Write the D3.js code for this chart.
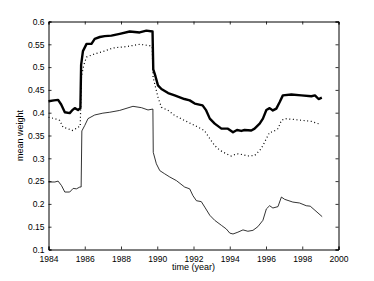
<!DOCTYPE html>
<html>
<head>
<meta charset="utf-8">
<script src="https://cdn.jsdelivr.net/npm/d3@7"></script>
<style>
  body { margin: 0; background: #fff; }
  text { font-family: "Liberation Sans", Arial, sans-serif; }
</style>
</head>
<body>
<div class="chart"></div>
<script>
// thick solid series
var thickYears = [1984.0,1984.3,1984.53,1984.7,1984.9,1985.17,1985.3,1985.45,1985.63,1985.76,1985.8,1985.9,1986.1,1986.37,1986.55,1986.83,1987.1,1987.47,1987.93,1988.48,1989.03,1989.4,1989.74,1989.78,1989.9,1990.04,1990.23,1990.6,1990.96,1991.5,1991.79,1992.07,1992.5,1992.7,1992.9,1993.17,1993.54,1993.9,1994.18,1994.4,1994.64,1994.82,1995.19,1995.37,1995.65,1995.83,1996.02,1996.2,1996.38,1996.57,1996.75,1996.93,1997.4,1997.95,1998.5,1998.7,1998.9,1999.08];
var thickVals = [0.425,0.427,0.428,0.418,0.401,0.399,0.405,0.41,0.406,0.41,0.505,0.535,0.551,0.551,0.562,0.566,0.568,0.569,0.573,0.578,0.576,0.58,0.578,0.495,0.48,0.46,0.452,0.443,0.438,0.43,0.427,0.42,0.416,0.405,0.387,0.376,0.365,0.365,0.357,0.362,0.36,0.362,0.361,0.365,0.376,0.387,0.406,0.41,0.405,0.409,0.423,0.438,0.44,0.438,0.436,0.438,0.43,0.433];

// dotted series
var dotYears = [1984,1984.35,1984.62,1984.8,1985.08,1985.3,1985.5,1985.6,1985.75,1985.82,1985.95,1986.1,1986.55,1987.0,1987.56,1988.3,1989.03,1989.58,1989.72,1989.77,1989.86,1990.04,1990.23,1990.6,1990.96,1991.5,1992.07,1992.6,1992.9,1993.17,1993.44,1993.8,1994.08,1994.4,1994.73,1995.0,1995.37,1995.65,1995.83,1996.02,1996.2,1996.38,1996.66,1996.85,1997.03,1997.58,1998.5,1999.03];
var dotVals = [0.39,0.387,0.383,0.368,0.365,0.361,0.365,0.368,0.37,0.48,0.505,0.522,0.529,0.534,0.542,0.545,0.55,0.547,0.545,0.478,0.463,0.434,0.412,0.405,0.394,0.383,0.372,0.361,0.343,0.328,0.318,0.31,0.305,0.31,0.308,0.305,0.306,0.317,0.328,0.343,0.357,0.358,0.365,0.383,0.387,0.385,0.381,0.374];

// thin solid series
var thinYears = [1984,1984.35,1984.53,1984.72,1984.9,1985.17,1985.36,1985.54,1985.73,1985.8,1985.84,1986.0,1986.18,1986.55,1987.0,1987.38,1987.93,1988.66,1989.13,1989.49,1989.76,1989.78,1989.95,1990.14,1990.41,1990.69,1991.06,1991.51,1991.79,1991.97,1992.16,1992.43,1992.62,1992.9,1993.17,1993.54,1993.81,1994.0,1994.18,1994.45,1994.73,1995.0,1995.28,1995.55,1995.83,1996.02,1996.2,1996.38,1996.66,1996.85,1997.03,1997.48,1997.85,1998.22,1998.44,1998.7,1999.1];
var thinVals = [0.248,0.248,0.25,0.24,0.226,0.226,0.234,0.233,0.237,0.237,0.36,0.372,0.387,0.395,0.399,0.401,0.405,0.414,0.411,0.406,0.408,0.313,0.288,0.273,0.266,0.259,0.251,0.237,0.233,0.218,0.207,0.205,0.193,0.175,0.164,0.153,0.145,0.136,0.134,0.138,0.143,0.14,0.142,0.15,0.164,0.189,0.196,0.191,0.194,0.215,0.21,0.204,0.202,0.196,0.195,0.186,0.172];

var xTicks = [1984,1986,1988,1990,1992,1994,1996,1998,2000];
var yTicks = [0.1,0.15,0.2,0.25,0.3,0.35,0.4,0.45,0.5,0.55,0.6];

var W = 374, H = 281;
var x0 = 48.5, x1 = 338.5, y0 = 21.5, y1 = 249.5;

var svg = d3.select(".chart").append("svg")
  .attr("width", W).attr("height", H);

var x = d3.scaleLinear().domain([1984, 2000]).range([x0, x1]);
var y = d3.scaleLinear().domain([0.1, 0.6]).range([y1, y0]);

function fmtY(d) { return d3.format(".2~f")(d); }

// axes, matlab style: ticks inward on all four sides
svg.append("g").attr("transform", "translate(0," + y1 + ")")
  .call(d3.axisBottom(x).tickValues(xTicks).tickSize(-3).tickPadding(6).tickFormat(d3.format("d")));
svg.append("g").attr("transform", "translate(0," + y0 + ")")
  .call(d3.axisTop(x).tickValues(xTicks).tickSize(-3).tickFormat(""));
svg.append("g").attr("transform", "translate(" + x0 + ",0)")
  .call(d3.axisLeft(y).tickValues(yTicks).tickSize(-3).tickPadding(4).tickFormat(fmtY));
svg.append("g").attr("transform", "translate(" + x1 + ",0)")
  .call(d3.axisRight(y).tickValues(yTicks).tickSize(-3).tickFormat(""));

svg.selectAll(".domain").attr("stroke", "#000").attr("stroke-width", 1);
svg.selectAll(".tick line").attr("stroke", "#000").attr("stroke-width", 0.8);
svg.selectAll(".tick text")
  .style("font-family", "'Liberation Sans', Arial, sans-serif")
  .style("font-size", "8.5px").attr("fill", "#000");

var line = d3.line()
  .x(function(d) { return x(d[0]); })
  .y(function(d) { return y(d[1]); });

function zipUp(a, b) { return a.map(function(v, i) { return [v, b[i]]; }); }

svg.append("path").datum(zipUp(thinYears, thinVals))
  .attr("d", line).attr("fill", "none")
  .attr("stroke", "#000").attr("stroke-width", 0.8);

svg.append("path").datum(zipUp(dotYears, dotVals))
  .attr("d", line).attr("fill", "none")
  .attr("stroke", "#000").attr("stroke-width", 1.2)
  .attr("stroke-dasharray", "1,2.6");

svg.append("path").datum(zipUp(thickYears, thickVals))
  .attr("d", line).attr("fill", "none")
  .attr("stroke", "#000").attr("stroke-width", 2.4)
  .attr("stroke-linejoin", "round");

svg.append("text")
  .attr("x", (x0 + x1) / 2).attr("y", 270)
  .attr("text-anchor", "middle")
  .style("font-size", "9px")
  .text("time (year)");

svg.append("text")
  .attr("transform", "translate(23," + ((y0 + y1) / 2) + ") rotate(-90)")
  .attr("text-anchor", "middle")
  .style("font-size", "9px")
  .text("mean weight");
</script>
</body>
</html>
